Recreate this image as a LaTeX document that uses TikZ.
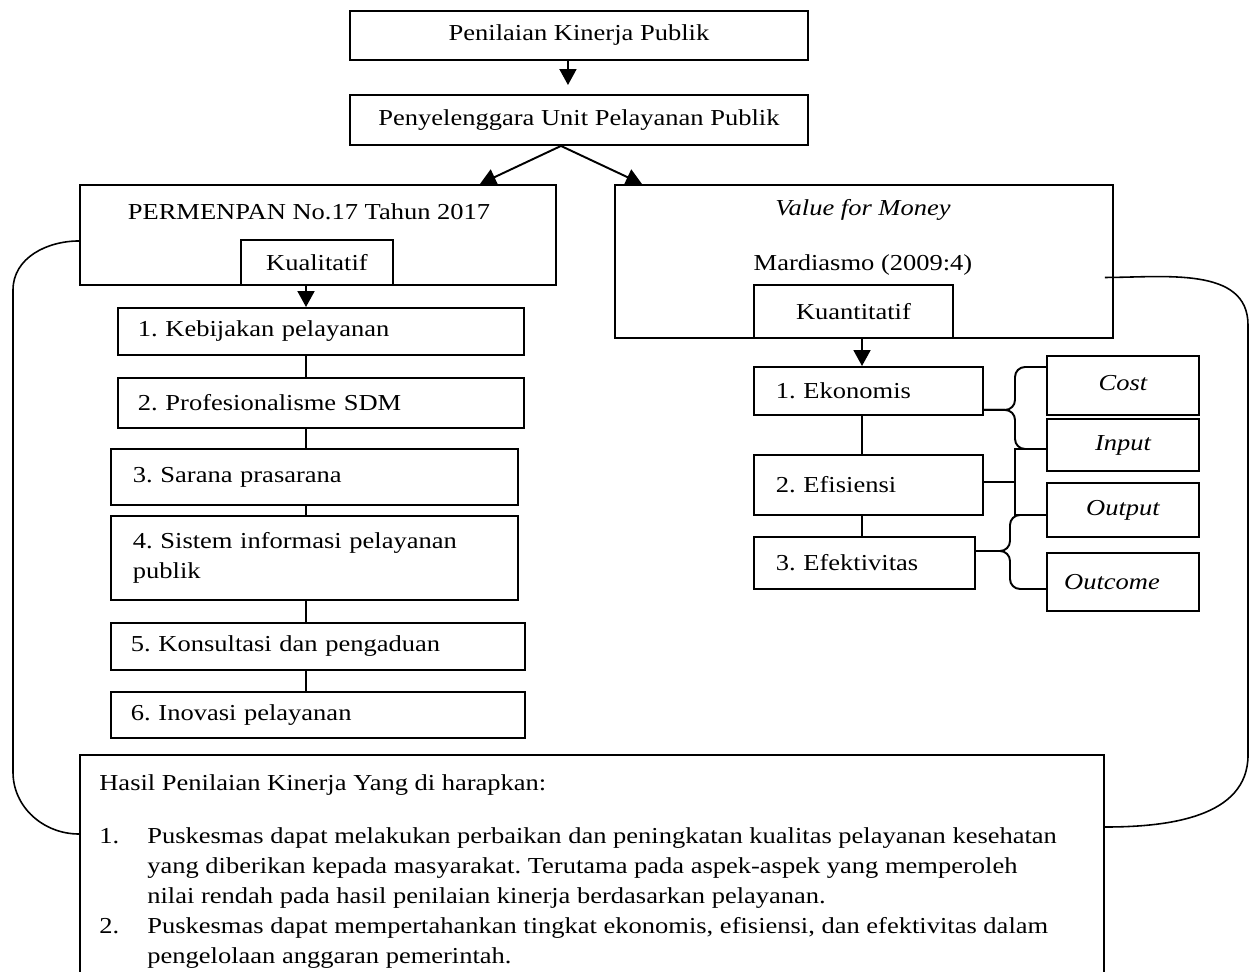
\documentclass[tikz,border=0pt]{standalone}
\usepackage{fontspec}
\setmainfont[FakeStretch=1.16]{Liberation Serif}
\usepackage{tikz}
\usetikzlibrary{positioning,calc,arrows.meta}
\frenchspacing

\begin{document}
\begin{tikzpicture}[
    x=0.2mm, y=0.2mm,
    every node/.style={font=\fontsize{13}{17}\selectfont},
    box/.style={rectangle, draw, line width=1.1pt, anchor=north west, inner sep=0pt},
    lbox/.style={box, align=left, inner xsep=4mm},
    ibox/.style={box, font=\fontsize{13}{17}\selectfont\itshape, minimum width=30.4mm},
    arrow/.style={-{Triangle[length=3.2mm, width=3.4mm]}, line width=1.1pt},
    link/.style={line width=1.1pt},
    loop/.style={line width=0.9pt}
]
    \useasboundingbox (0,0) rectangle (1253,-971);

    \node[box, minimum width=91.6mm, minimum height=9.8mm] (penilaian) at (349,-10) {Penilaian Kinerja Publik};
    \node[box, minimum width=91.6mm, minimum height=10mm] (penyelenggara) at (349,-94) {Penyelenggara Unit Pelayanan Publik};

    \node[box, minimum width=95.2mm, minimum height=20mm] (permenpan) at (79,-184) {};
    \node (permenpan-title) at (309,-212) {PERMENPAN No.17 Tahun 2017};
    \node[box, minimum width=30.4mm, minimum height=9mm] (kualitatif) at (240,-239) {\raisebox{-0.9mm}{Kualitatif}};

    \node[box, minimum width=99.6mm, minimum height=30.6mm] (vfm) at (614,-184) {};
    \node[font=\fontsize{13}{17}\selectfont\itshape] (vfm-title) at (863,-210) {Value for Money};
    \node (mardiasmo) at (863,-265) {Mardiasmo (2009:4)};
    \node[box, minimum width=39.8mm, minimum height=10.6mm] (kuantitatif) at (753,-284) {Kuantitatif};

    \node[lbox, text width=73.2mm, minimum height=9.4mm] (kebijakan) at (117,-307) {1. Kebijakan pelayanan};
    \node[lbox, text width=73.2mm, minimum height=10mm] (sdm) at (117,-377) {2. Profesionalisme SDM};
    \node[lbox, inner xsep=4.4mm, text width=72.6mm, minimum height=11.2mm] (sarana) at (110,-448) {3. Sarana prasarana};
    \node[lbox, inner xsep=4.4mm, text width=72.6mm, minimum height=16.8mm] (sisinfo) at (110,-515) {4. Sistem informasi pelayanan\\publik};
    \node[lbox, text width=74.8mm, minimum height=9.4mm] (konsultasi) at (110,-622) {5. Konsultasi dan pengaduan};
    \node[lbox, text width=74.8mm, minimum height=9.2mm] (inovasi) at (110,-691) {6. Inovasi pelayanan};

    \node[lbox, inner xsep=4.4mm, text width=37mm, minimum height=9.6mm] (ekonomis) at (753,-366) {1. Ekonomis};
    \node[lbox, inner xsep=4.4mm, text width=37mm, minimum height=12mm] (efisiensi) at (753,-454) {2. Efisiensi};
    \node[lbox, inner xsep=4.4mm, text width=35.4mm, minimum height=10.4mm] (efektivitas) at (753,-536) {3. Efektivitas};

    \node[ibox, minimum height=11.8mm] (cost) at (1046,-355) {\raisebox{0.9mm}{Cost}};
    \node[ibox, minimum height=10.4mm] (input) at (1046,-418) {Input};
    \node[ibox, minimum height=10.8mm] (output) at (1046,-482) {Output};
    \node[ibox, minimum height=11.6mm] (outcome) at (1046,-552) {\hspace*{-4.4mm}Outcome};

    \node[box, minimum width=204.8mm, minimum height=48mm] (hasil) at (79,-754) {};
    \node[anchor=north west, align=left, inner sep=0pt] (hasil-text) at (99,-774.6) {Hasil Penilaian Kinerja Yang di harapkan:\\[4.6mm]
        \makebox[9.6mm][l]{1.}Puskesmas dapat melakukan perbaikan dan peningkatan kualitas pelayanan kesehatan\\
        \hspace*{9.6mm}yang diberikan kepada masyarakat. Terutama pada aspek-aspek yang memperoleh\\
        \hspace*{9.6mm}nilai rendah pada hasil penilaian kinerja berdasarkan pelayanan.\\
        \makebox[9.6mm][l]{2.}Puskesmas dapat mempertahankan tingkat ekonomis, efisiensi, dan efektivitas dalam\\
        \hspace*{9.6mm}pengelolaan anggaran pemerintah.};

    \coordinate (spineL) at (306,0);
    \coordinate (spineR) at (862,0);
    \coordinate (braceA) at (1015,0);
    \coordinate (braceB) at (1010,0);
    \coordinate (ekoTip) at ($(ekonomis.south east)+(0,6)$);
    \coordinate (efiTip) at ($(efisiensi.east)+(0,3)$);
    \coordinate (efkTip) at ($(efektivitas.north east)+(0,-15)$);
    \coordinate (costArm) at ($(cost.north west)+(0,-12)$);
    \coordinate (inputArm) at ($(input.west)+(0,-4)$);
    \coordinate (outputArm) at ($(output.west)+(0,-5)$);
    \coordinate (outcomeArm) at ($(outcome.west)+(0,-7)$);

    \draw[arrow, shorten >=1.8mm] ($(penilaian.south)+(-11,0)$) -- ($(penyelenggara.north)+(-11,0)$);
    \draw[arrow] ($(penyelenggara.south)+(-18,0)$) -- ($(permenpan.north east)+(-77,0)$);
    \draw[arrow] ($(penyelenggara.south)+(-18,0)$) -- ($(vfm.north west)+(28,0)$);

    \draw[arrow] (kualitatif.south -| spineL) -- (kebijakan.north -| spineL);
    \draw[link] (kebijakan.south -| spineL) -- (sdm.north -| spineL);
    \draw[link] (sdm.south -| spineL) -- (sarana.north -| spineL);
    \draw[link] (sarana.south -| spineL) -- (sisinfo.north -| spineL);
    \draw[link] (sisinfo.south -| spineL) -- (konsultasi.north -| spineL);
    \draw[link] (konsultasi.south -| spineL) -- (inovasi.north -| spineL);

    \draw[arrow] (kuantitatif.south -| spineR) -- (ekonomis.north -| spineR);
    \draw[link] (ekonomis.south -| spineR) -- (efisiensi.north -| spineR);
    \draw[link] (efisiensi.south -| spineR) -- (efektivitas.north -| spineR);

    \draw[link, rounded corners=2mm] (ekoTip) -- (ekoTip -| braceA) -- (braceA |- costArm) -- (costArm);
    \draw[link, rounded corners=2mm] (ekoTip) -- (ekoTip -| braceA) -- (braceA |- inputArm) -- (inputArm);
    \draw[link, line width=1.5pt] (efiTip) -- (efiTip -| braceA);
    \draw[link, line width=1.5pt] (inputArm) -- (braceA |- inputArm) -- (braceA |- outputArm) -- (outputArm);
    \draw[link, rounded corners=2mm] (efkTip) -- (efkTip -| braceB) -- (braceB |- outputArm) -- (outputArm);
    \draw[link, rounded corners=2mm] (efkTip) -- (efkTip -| braceB) -- (braceB |- outcomeArm) -- (outcomeArm);

    \draw[loop] ($(permenpan.west)+(0,-6)$) to[out=180, in=90] (13,-290) -- (13,-772) to[out=-90, in=180] ($(hasil.north west)+(0,-80)$);
    \draw[loop] ($(vfm.east)+(-9,-16)$) to[out=0, in=90] (1248,-325) -- (1248,-755) to[out=-90, in=0] ($(hasil.north east)+(0,-73)$);
\end{tikzpicture}
\end{document}
